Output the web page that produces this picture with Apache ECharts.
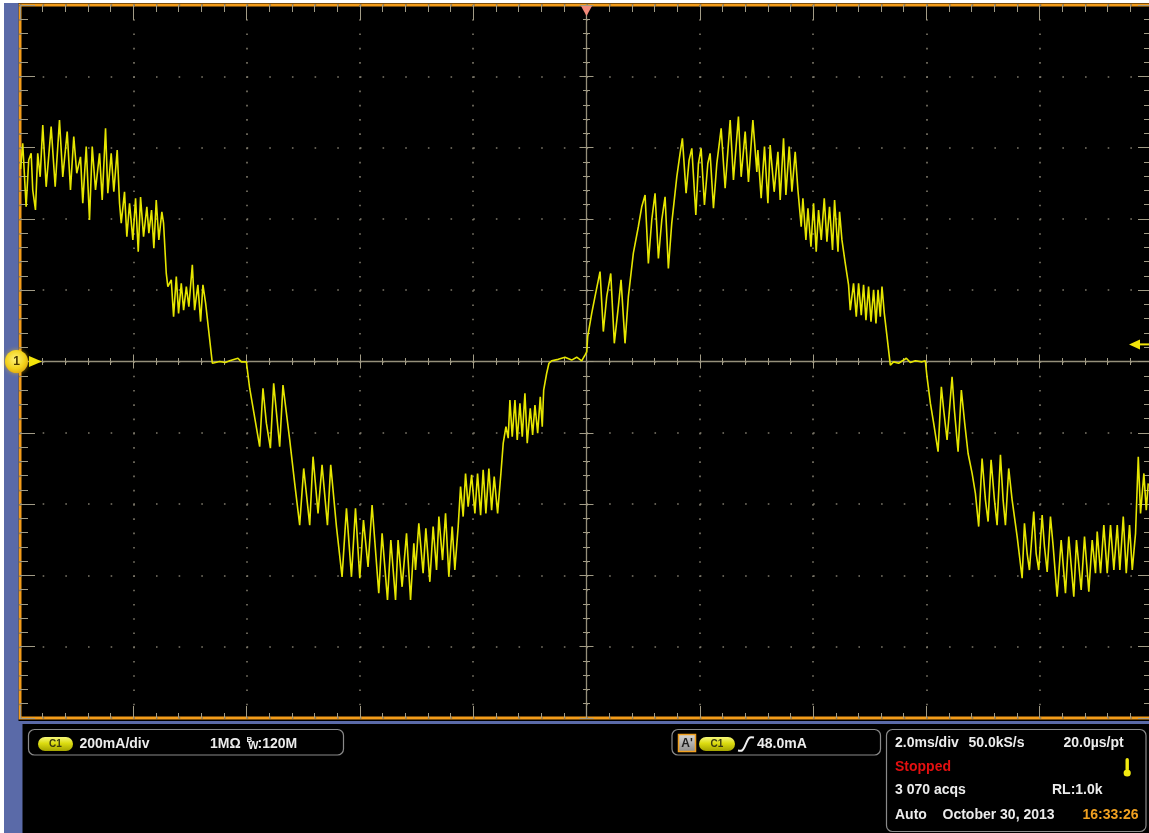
<!DOCTYPE html>
<html><head><meta charset="utf-8">
<script src="https://cdn.jsdelivr.net/npm/echarts@6/dist/echarts.min.js"></script>
<style>html,body{margin:0;padding:0;background:#fff}#c{width:1149px;height:833px}</style>
</head><body><div id="c"></div>
<script>
// Trace samples: [time in ms, current in mA]
const traceSeg1 = [[-9.99,540],[-9.952,612],[-9.892,434],[-9.846,565],[-9.803,584],[-9.775,481],[-9.727,425],[-9.687,584],[-9.644,518],[-9.598,663],[-9.538,490],[-9.450,659],[-9.379,490],[-9.303,677],[-9.245,518],[-9.167,645],[-9.109,481],[-9.051,631],[-8.998,528],[-8.932,574],[-8.892,444],[-8.831,603],[-8.773,397],[-8.725,603],[-8.667,481],[-8.596,584],[-8.549,453],[-8.490,654],[-8.450,472],[-8.390,584],[-8.344,476],[-8.284,593],[-8.243,444],[-8.213,388],[-8.155,476],[-8.114,350],[-8.066,444],[-8.008,341],[-7.960,458],[-7.913,308],[-7.872,461],[-7.819,350],[-7.761,434],[-7.725,360],[-7.678,425],[-7.637,318],[-7.595,453],[-7.549,341],[-7.496,420],[-7.466,388],[-7.418,247],[-7.390,210],[-7.330,229],[-7.289,126],[-7.241,238],[-7.201,135],[-7.153,219],[-7.112,144],[-7.064,210],[-7.019,154],[-6.958,271],[-6.918,144],[-6.860,215],[-6.812,112],[-6.771,215],[-6.723,163],[-6.605,-5]];
const traceSeg2 = [[-6.476,0],[-6.375,-3],[-6.299,2],[-6.153,9],[-6.093,-1],[-6.004,-1],[-5.987,-5],[-5.946,-75],[-5.769,-239],[-5.711,-75],[-5.651,-173],[-5.580,-243],[-5.522,-61],[-5.416,-239],[-5.358,-66],[-5.239,-220],[-5.151,-342],[-5.063,-459],[-4.992,-300],[-4.886,-459],[-4.827,-267],[-4.739,-426],[-4.668,-290],[-4.573,-459],[-4.515,-290],[-4.414,-463],[-4.315,-604],[-4.237,-412],[-4.149,-604],[-4.078,-412],[-4.002,-608],[-3.937,-445],[-3.856,-576],[-3.785,-403],[-3.667,-650],[-3.608,-482],[-3.513,-669],[-3.454,-501],[-3.371,-669]];
const traceSeg3 = [[-3.326,-501],[-3.255,-632],[-3.177,-482],[-3.106,-669],[-3.048,-510],[-3.018,-585],[-2.960,-454],[-2.884,-594],[-2.836,-468],[-2.765,-618],[-2.707,-463],[-2.647,-585],[-2.606,-435],[-2.541,-557],[-2.488,-426],[-2.430,-604],[-2.371,-463],[-2.324,-585],[-2.265,-463],[-2.223,-351],[-2.177,-435],[-2.135,-314],[-2.089,-407],[-2.028,-318],[-1.970,-426],[-1.923,-314],[-1.869,-431],[-1.824,-304],[-1.776,-426],[-1.723,-300],[-1.675,-417],[-1.629,-323],[-1.569,-426],[-1.511,-314],[-1.470,-229],[-1.422,-183],[-1.382,-215],[-1.352,-108],[-1.311,-211],[-1.263,-108],[-1.223,-220],[-1.175,-117],[-1.134,-211],[-1.087,-89],[-1.046,-229],[-0.993,-131],[-0.951,-206],[-0.910,-122],[-0.862,-201],[-0.816,-99],[-0.781,-183],[-0.756,-80],[-0.703,-33],[-0.663,-5],[-0.615,2],[-0.498,6],[-0.380,12],[-0.262,4],[-0.173,12],[-0.085,2],[-0.027,18],[0.004,27]];
const traceSeg4 = [[0.021,70],[0.092,135],[0.150,182],[0.239,252],[0.297,84],[0.357,182],[0.428,247],[0.491,51],[0.562,154],[0.610,229],[0.680,51],[0.739,182],[0.827,304],[0.915,378],[0.975,434],[1.034,467],[1.092,275],[1.152,397],[1.210,472],[1.269,289],[1.329,397],[1.387,462],[1.445,261],[1.505,388],[1.594,518],[1.652,584],[1.693,626],[1.758,472],[1.811,565],[1.859,598],[1.930,411],[1.976,556],[2.023,598],[2.082,439],[2.142,556],[2.182,584],[2.241,430],[2.301,556],[2.377,654],[2.447,486],[2.536,677],[2.594,509],[2.682,687],[2.730,518],[2.801,645],[2.859,504],[2.937,677],[3.007,532],[3.025,593],[3.083,458],[3.142,603],[3.202,444],[3.242,607],[3.313,476],[3.379,588]];
const traceSeg5 = [[3.419,453],[3.478,626],[3.520,467],[3.578,603],[3.626,476],[3.684,588],[3.732,481],[3.790,378],[3.820,458],[3.873,341],[3.909,430],[3.962,322],[4.008,444],[4.055,308],[4.096,425],[4.144,341],[4.197,458],[4.244,336],[4.290,434],[4.343,313],[4.379,453],[4.439,308],[4.467,420],[4.509,341],[4.568,275],[4.626,215],[4.656,144],[4.714,219],[4.762,126],[4.803,219],[4.850,130],[4.891,215],[4.933,116],[4.979,210],[5.022,112],[5.068,201],[5.110,107],[5.146,201],[5.186,126],[5.216,210],[5.257,135],[5.305,70],[5.363,-10],[5.421,-1],[5.510,-5],[5.646,9],[5.716,-3],[5.805,2],[5.923,-1],[5.981,2],[6.011,-43],[6.070,-117],[6.128,-173],[6.206,-253],[6.264,-71],[6.305,-136],[6.365,-220],[6.453,-43],[6.494,-136],[6.559,-253],[6.617,-80]];
const traceSeg6 = [[6.676,-173],[6.736,-258],[6.807,-314],[6.865,-370],[6.923,-463],[6.983,-272],[7.042,-388],[7.089,-449],[7.142,-276],[7.201,-388],[7.248,-459],[7.307,-262],[7.354,-388],[7.395,-459],[7.453,-300],[7.513,-388],[7.602,-491],[7.690,-608],[7.731,-454],[7.778,-538],[7.819,-585],[7.895,-421],[7.937,-538],[7.983,-585],[8.043,-431],[8.084,-519],[8.132,-590],[8.190,-435],[8.238,-519],[8.308,-660],[8.379,-501],[8.455,-650],[8.513,-491],[8.602,-660],[8.649,-501],[8.732,-641],[8.791,-491],[8.867,-646],[8.927,-501],[8.985,-594],[9.015,-477],[9.074,-594],[9.132,-459],[9.192,-594],[9.250,-459],[9.309,-585],[9.369,-459],[9.415,-585],[9.475,-435],[9.528,-594],[9.586,-459],[9.634,-585],[9.692,-482],[9.740,-267],[9.780,-426],[9.839,-314],[9.881,-417],[9.916,-342]];

const xRangeMs = [-10, 10];
const msPerDiv = 2;
const yRangeMa = [-1000, 1000];
const maPerDiv = 200;
const triggerLevelMa = 48.0;
const triggerTimeMs = 0;

const trace = [].concat(traceSeg1, traceSeg2, traceSeg3, traceSeg4, traceSeg5, traceSeg6);

const FONT = '"Liberation Sans", Arial, sans-serif';
const tickColor = '#a29c86';
const dotColor = '#7d786a';
const centerColor = '#958f7a';
const GRID = {left: 20, top: 5, width: 1133, height: 713};

function frameAxis(pos, len, minorLen, extra) {
  return Object.assign({
    type: 'value', position: pos, offset: 0,
    axisLine: {show: false, onZero: false},
    axisTick: {show: true, inside: true, length: len, lineStyle: {color: tickColor, width: 1}},
    minorTick: {show: true, splitNumber: 5, length: minorLen, lineStyle: {color: tickColor, width: 1}},
    axisLabel: {show: false},
    splitLine: {show: false}
  }, extra);
}

const xBase = {min: xRangeMs[0], max: xRangeMs[1], interval: msPerDiv};
const yBase = {min: yRangeMa[0], max: yRangeMa[1], interval: maPerDiv};

const chart = echarts.init(document.getElementById('c'), null, {renderer: 'canvas'});

function pill(x, y, w, h) {
  return [
    {type: 'rect', shape: {x: x, y: y, width: w, height: h, r: h / 2},
     style: {fill: new echarts.graphic.LinearGradient(0, 0, 0, 1, [
       {offset: 0, color: '#f6f77a'}, {offset: 0.45, color: '#dcdc10'}, {offset: 1, color: '#a4a400'}])}, z: 100},
    {type: 'text', x: x + w / 2, y: y + h / 2 + 0.5,
     style: {text: 'C1', fill: '#3a3a10', font: 'bold 10px ' + FONT, align: 'center', verticalAlign: 'middle'}, z: 101}
  ];
}
function txt(x, y, s, color, size, align) {
  return {type: 'text', x: x, y: y, z: 101,
    style: {text: s, fill: color || '#ececec', font: 'bold ' + (size || 14) + 'px ' + FONT,
      align: align || 'left', verticalAlign: 'middle'}};
}

const option = {
  backgroundColor: '#000',
  animation: false,
  grid: {left: GRID.left, top: GRID.top, width: GRID.width, height: GRID.height,
    outerBoundsMode: 'none', containLabel: false,
    show: true, backgroundColor: '#000', borderColor: '#f39c1a', borderWidth: 3},
  xAxis: [
    frameAxis('bottom', 12, 5, Object.assign({}, xBase, {
      splitLine: {show: true, lineStyle: {color: dotColor, width: 1.6, type: [1.6, 12.66]}}})),
    frameAxis('top', 15, 7, Object.assign({}, xBase)),
    frameAxis('bottom', 7, 3.5, Object.assign({}, xBase, {offset: -GRID.height / 2,
      axisLine: {show: true, onZero: false, lineStyle: {color: centerColor, width: 1.3}}})),
    frameAxis('bottom', 7, 3.5, Object.assign({}, xBase, {offset: -GRID.height / 2,
      axisTick: {show: true, inside: false, length: 7, lineStyle: {color: tickColor, width: 1}}}))
  ],
  yAxis: [
    frameAxis('left', 15, 8, Object.assign({}, yBase, {
      splitLine: {show: true, lineStyle: {color: dotColor, width: 1.6, type: [1.6, 21.06]}}})),
    frameAxis('right', 15, 9, Object.assign({}, yBase)),
    frameAxis('left', 7, 3.5, Object.assign({}, yBase, {offset: -GRID.width / 2,
      axisLine: {show: true, onZero: false, lineStyle: {color: centerColor, width: 1.3}}})),
    frameAxis('left', 7, 3.5, Object.assign({}, yBase, {offset: -GRID.width / 2,
      axisTick: {show: true, inside: false, length: 7, lineStyle: {color: tickColor, width: 1}}}))
  ],
  series: [{
    type: 'line', xAxisIndex: 0, yAxisIndex: 0, data: trace,
    showSymbol: false, symbol: 'none', z: 5,
    lineStyle: {color: '#e6e600', width: 1.6},
    emphasis: {disabled: true}
  }]
};
chart.setOption(option);

const x0 = chart.convertToPixel({xAxisIndex: 0}, triggerTimeMs);
const yZero = chart.convertToPixel({yAxisIndex: 0}, 0);
const yTrig = chart.convertToPixel({yAxisIndex: 0}, triggerLevelMa);

const g = [
  // page margins and scope chrome
  {type: 'rect', shape: {x: 0, y: 0, width: 1149, height: 3}, style: {fill: '#fff'}, z: 90},
  {type: 'rect', shape: {x: 0, y: 0, width: 4, height: 833}, style: {fill: '#fff'}, z: 90},
  {type: 'rect', shape: {x: 4, y: 3, width: 14.5, height: 830}, style: {fill: '#5a6aa8'}, z: 90},
  {type: 'rect', shape: {x: 18, y: 721, width: 1131, height: 3}, style: {fill: '#5a6aa8'}, z: 90},
  {type: 'rect', shape: {x: 18, y: 721, width: 4.5, height: 112}, style: {fill: '#5a6aa8'}, z: 90},
  // channel 1 ground marker
  {type: 'polygon', shape: {points: [[29, yZero - 5.5], [42, yZero], [29, yZero + 5.5]]}, style: {fill: '#f2e40a'}, z: 100},
  {type: 'circle', shape: {cx: 16.5, cy: yZero, r: 11.5},
   style: {fill: new echarts.graphic.RadialGradient(0.45, 0.4, 0.7, [
     {offset: 0, color: '#fff27a'}, {offset: 0.6, color: '#f3d21a'}, {offset: 1, color: '#d99a10'}]),
     shadowColor: 'rgba(255,200,0,0.6)', shadowBlur: 4}, z: 100},
  {type: 'text', x: 16.5, y: yZero + 0.5, style: {text: '1', fill: '#4a3800', font: 'bold 12px ' + FONT, align: 'center', verticalAlign: 'middle'}, z: 101},
  // trigger position marker (top)
  {type: 'polygon', shape: {points: [[x0 - 5.5, 6], [x0 + 5.5, 6], [x0, 16]]}, style: {fill: '#f28a7a'}, z: 100},
  // trigger level marker (right)
  {type: 'polygon', shape: {points: [[1129, yTrig], [1140, yTrig - 5], [1140, yTrig + 5]]}, style: {fill: '#f2e40a'}, z: 100},
  {type: 'rect', shape: {x: 1139, y: yTrig - 1, width: 10, height: 2}, style: {fill: '#f2e40a'}, z: 100},
  // info box 1
  {type: 'rect', shape: {x: 28.5, y: 729.5, width: 315, height: 25.5, r: 6}, style: {fill: '#000', stroke: '#8a8a8a', lineWidth: 1.2}, z: 95},
  ...pill(38, 737, 35, 14),
  txt(79.5, 744, '200mA/div'),
  txt(210, 744, '1MΩ'),
  txt(246.5, 739.5, 'B', '#ececec', 8),
  txt(248, 746, 'W', '#ececec', 11),
  txt(257.5, 744, ':120M'),
  // info box 2
  {type: 'rect', shape: {x: 672, y: 729.5, width: 208.5, height: 25.5, r: 6}, style: {fill: '#000', stroke: '#8a8a8a', lineWidth: 1.2}, z: 95},
  {type: 'rect', shape: {x: 678.5, y: 734.5, width: 17, height: 17},
   style: {fill: new echarts.graphic.LinearGradient(0, 0, 0, 1, [{offset: 0, color: '#d8d8d8'}, {offset: 1, color: '#8c8c8c'}]),
     stroke: '#f0a020', lineWidth: 1.5}, z: 100},
  txt(687, 743.5, "A'", '#1e1e1e', 12, 'center'),
  ...pill(699, 737, 36, 14),
  {type: 'polyline', shape: {points: [[738, 750.5], [742, 750.5], [744.5, 747], [748, 739.5], [750, 737.5], [754, 737.5]], smooth: 0.3},
   style: {stroke: '#f0f0f0', lineWidth: 2, fill: null}, z: 100},
  txt(757, 744, '48.0mA'),
  // info box 3
  {type: 'rect', shape: {x: 886.5, y: 729.5, width: 259.5, height: 102, r: 6}, style: {fill: '#000', stroke: '#8a8a8a', lineWidth: 1.2}, z: 95},
  txt(895, 743.5, '2.0ms/div'),
  txt(968.5, 743.5, '50.0kS/s'),
  txt(1063.5, 743.5, '20.0µs/pt'),
  txt(895, 767.5, 'Stopped', '#e41010'),
  {type: 'rect', shape: {x: 1125.5, y: 758, width: 3.4, height: 13, r: 1.7}, style: {fill: '#f2ea10'}, z: 100},
  {type: 'circle', shape: {cx: 1127.2, cy: 773, r: 3.6}, style: {fill: '#f2ea10'}, z: 100},
  txt(895, 790.5, '3 070 acqs'),
  txt(1052, 790.5, 'RL:1.0k'),
  txt(895, 815, 'Auto'),
  txt(942.5, 815, 'October 30, 2013'),
  txt(1082.5, 815, '16:33:26', '#f0a020')
];
chart.setOption({graphic: {elements: g}});
</script>
</body></html>
